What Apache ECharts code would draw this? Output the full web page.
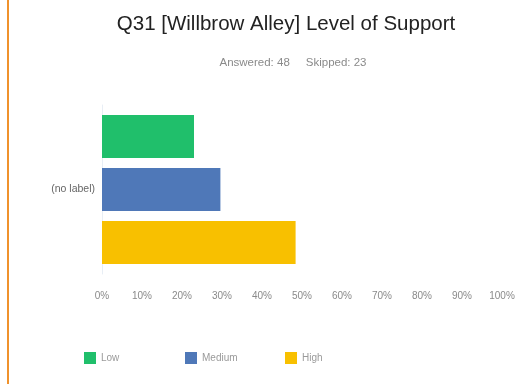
<!DOCTYPE html>
<html>
<head>
<meta charset="utf-8">
<script src="https://cdn.jsdelivr.net/npm/echarts@6/dist/echarts.min.js"></script>
<style>
  html, body { margin: 0; padding: 0; background: #ffffff; }
  #chart { width: 526px; height: 384px; }
</style>
</head>
<body>
<div id="chart"></div>
<script>
// Survey results for one question, shown as percentage of respondents
const categories = ['(no label)'];
const seriesNames = ['Low', 'Medium', 'High'];
const lowValues = [23.0];
const mediumValues = [29.6];
const highValues = [48.4];
const xTicks = [0, 10, 20, 30, 40, 50, 60, 70, 80, 90, 100];
const answered = 48;
const skipped = 23;

const colors = ['#20bf6b', '#4f78b8', '#f8c000'];
const valuesBySeries = [lowValues, mediumValues, highValues];
const legendLeft = [84, 185, 285];

const font = 'Liberation Sans, Arial';
const chart = echarts.init(document.getElementById('chart'));

chart.setOption({
  animation: false,
  backgroundColor: '#ffffff',
  title: [
    {
      text: 'Q31 [Willbrow Alley] Level of Support',
      left: 281, top: 9, textAlign: 'center',
      textStyle: { fontFamily: font, fontSize: 20.5, fontWeight: 'normal', color: '#222222' }
    },
    {
      text: 'Answered: ' + answered + '     Skipped: ' + skipped,
      left: 288, top: 52, textAlign: 'center',
      textStyle: { fontFamily: font, fontSize: 11.5, fontWeight: 'normal', color: '#8a8a8a' }
    }
  ],
  graphic: [
    { type: 'rect', shape: { x: 7, y: 0, width: 2, height: 384 }, style: { fill: '#f0922c' } }
  ],
  // one legend block per series so each entry sits at its own column
  legend: seriesNames.map((name, i) => ({
    top: 352, left: legendLeft[i], padding: 0,
    itemWidth: 12, itemHeight: 12, itemGap: 4,
    icon: 'rect',
    data: [name],
    textStyle: { fontFamily: font, fontSize: 10, color: '#9a9a9a' }
  })),
  grid: { left: 102, right: 24, top: 105, bottom: 110, containLabel: false },
  xAxis: {
    type: 'value', min: xTicks[0], max: xTicks[xTicks.length - 1], interval: 10,
    axisLine: { show: false }, axisTick: { show: false },
    splitLine: { show: false },
    axisLabel: {
      margin: 17,
      fontFamily: font, fontSize: 10, color: '#8a8a8a',
      formatter: v => v + '%'
    }
  },
  yAxis: {
    type: 'category', data: categories, inverse: true,
    axisLine: { show: true, lineStyle: { color: '#e8eef5', width: 1 } },
    axisTick: { show: false },
    axisLabel: { margin: 7, fontFamily: font, fontSize: 10.5, color: '#666666' }
  },
  series: seriesNames.map((name, i) => ({
    name: name,
    type: 'bar',
    data: valuesBySeries[i],
    barWidth: 43,
    barGap: '23%',
    itemStyle: { color: colors[i] }
  }))
});
</script>
</body>
</html>
